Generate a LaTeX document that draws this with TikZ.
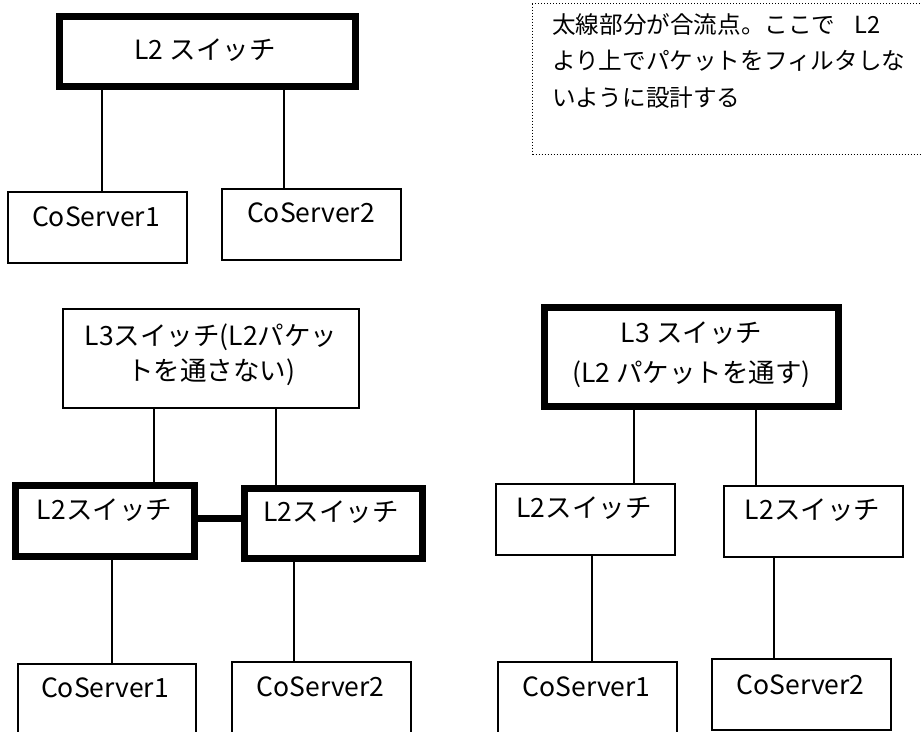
\documentclass[tikz,border=0pt]{standalone}
\usepackage{fontspec}
\setmainfont{Noto Sans CJK JP}
\tikzset{
  thin box/.style={draw, line width=1.3pt, inner sep=0pt, outer sep=0pt},
  thick box/.style={draw, line width=7pt, inner sep=0pt, outer sep=0pt},
  lbl/.style={inner sep=0pt, font=\fontsize{26.5}{35}\selectfont, align=center},
  conn/.style={line width=1.3pt},
  thick conn/.style={line width=7pt},
  note/.style={draw, dotted, line width=1pt, inner sep=0pt}
}
\begin{document}
\begin{tikzpicture}[x=1pt,y=-1pt]
\clip (0,0) rectangle (921,731);
\fill[white] (0,0) rectangle (921,731);

% ---------- top group ----------
\node[thick box, minimum width=296pt, minimum height=70pt] (topL2) at (207.5,51.5) {};
\node[lbl] (topL2t) at (205,50) {L2 スイッチ};
\node[thin box, minimum width=179pt, minimum height=71pt] (topC1) at (97.5,227.5) {};
\node[lbl] (topC1t) at (96,217) {CoServer1};
\node[thin box, minimum width=179pt, minimum height=71pt] (topC2) at (311.5,224.5) {};
\node[lbl] (topC2t) at (311,213) {CoServer2};
\draw[conn] (topL2.south -| 102,0) -- (topC1.north -| 102,0);
\draw[conn] (topL2.south -| 284,0) -- (topC2.north -| 284,0);

% ---------- note ----------
\node[note, minimum width=400pt, minimum height=151pt, anchor=north west] (note) at (532,3) {};
\node[inner sep=0pt, anchor=north west, align=left,
      font=\fontsize{23.6}{36.5}\selectfont] (notet) at (552,13)
  {太線部分が合流点。ここで\hspace{0.8em}L2\\より上でパケットをフィルタしな\\いように設計する};

% ---------- bottom-left group ----------
\node[thin box, minimum width=296pt, minimum height=99pt] (lL3) at (211,358.5) {};
\node[lbl] (lL3t) at (211,354.5) {L3スイッチ(L2パケッ\\トを通さない)};
\node[thick box, minimum width=179pt, minimum height=71pt] (lL2a) at (105,521) {};
\node[lbl] (lL2at) at (104.5,510) {L2スイッチ};
\node[thick box, minimum width=178pt, minimum height=70pt] (lL2b) at (333.5,523.5) {};
\node[lbl] (lL2bt) at (331,512) {L2スイッチ};
\draw[conn] (lL3.south -| 154,0) -- (lL2a.north -| 154,0);
\draw[conn] (lL3.south -| 276,0) -- (lL2b.north -| 276,0);
\draw[thick conn] (lL2a.east |- 0,518) -- (lL2b.west |- 0,518);
\node[thin box, minimum width=178pt, minimum height=71pt] (lC1) at (107,699.5) {};
\node[lbl] (lC1t) at (105,688) {CoServer1};
\node[thin box, minimum width=179pt, minimum height=71pt] (lC2) at (321.5,697.5) {};
\node[lbl] (lC2t) at (320.5,687) {CoServer2};
\draw[conn] (lL2a.south -| 112,0) -- (lC1.north -| 112,0);
\draw[conn] (lL2b.south -| 294,0) -- (lC2.north -| 294,0);

% ---------- bottom-right group ----------
\node[thick box, minimum width=294pt, minimum height=99pt] (rL3) at (691.5,357) {};
\node[lbl, font=\fontsize{26.5}{40}\selectfont] (rL3t) at (691.5,355) {L3 スイッチ\\(L2 パケットを通す)};
\node[thin box, minimum width=179pt, minimum height=71pt] (rL2a) at (585.5,519.5) {};
\node[lbl] (rL2at) at (584,508) {L2スイッチ};
\node[thin box, minimum width=179pt, minimum height=71pt] (rL2b) at (813.5,521.5) {};
\node[lbl] (rL2bt) at (812.5,510) {L2スイッチ};
\draw[conn] (rL3.south -| 634,0) -- (rL2a.north -| 634,0);
\draw[conn] (rL3.south -| 756,0) -- (rL2b.north -| 756,0);
\node[thin box, minimum width=179pt, minimum height=71pt] (rC1) at (587.5,697.5) {};
\node[lbl] (rC1t) at (586.5,687) {CoServer1};
\node[thin box, minimum width=179pt, minimum height=71pt] (rC2) at (801.5,694.5) {};
\node[lbl] (rC2t) at (800.5,685) {CoServer2};
\draw[conn] (rL2a.south -| 592,0) -- (rC1.north -| 592,0);
\draw[conn] (rL2b.south -| 774,0) -- (rC2.north -| 774,0);
\end{tikzpicture}
\end{document}
